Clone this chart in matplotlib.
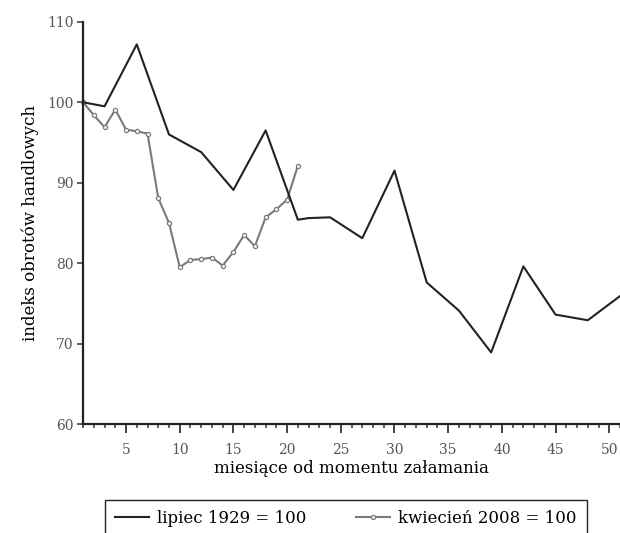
import matplotlib.pyplot as plt
from matplotlib.ticker import MultipleLocator

# lipiec 1929 = 100 (quarterly)
months_1929 = [1, 3, 6, 9, 12, 15, 18, 21, 22, 24, 27, 30, 33, 36, 39, 42, 45, 48, 51]
index_1929 = [100.0, 99.5, 107.2, 96.0, 93.8, 89.1, 96.5, 85.4, 85.6, 85.7, 83.1, 91.5,
              77.6, 74.1, 68.9, 79.6, 73.6, 72.9, 75.9]

# kwiecień 2008 = 100 (monthly)
months_2008 = list(range(1, 22))
index_2008 = [100.0, 98.4, 96.9, 99.1, 96.6, 96.4, 96.1, 88.1, 85.0, 79.5, 80.4, 80.5,
              80.7, 79.7, 81.4, 83.5, 82.1, 85.7, 86.7, 87.9, 92.1]

plt.rcParams.update({
    "font.family": "DejaVu Serif",
    "font.size": 12,
})

fig = plt.figure(figsize=(6.2, 5.33), dpi=100)
ax = fig.add_axes([0.134, 0.2045, 0.866, 0.7545])

ax.plot(months_1929, index_1929, color='#222222', lw=1.5, label='lipiec 1929 = 100',
        clip_on=False, zorder=3)
ax.plot(months_2008, index_2008, color='#7a7a7a', lw=1.5, marker='o', markersize=3,
        markerfacecolor='white', markeredgecolor='#7a7a7a', markeredgewidth=0.9,
        label='kwiecień 2008 = 100', clip_on=False, zorder=2)

ax.set_xlim(1, 51)
ax.set_ylim(60, 110)
ax.set_yticks([60, 70, 80, 90, 100, 110])
ax.xaxis.set_major_locator(MultipleLocator(5))
ax.xaxis.set_minor_locator(MultipleLocator(1))
ax.set_xticks([5, 10, 15, 20, 25, 30, 35, 40, 45, 50])

for s in ['top', 'right']:
    ax.spines[s].set_visible(False)
for s in ['left', 'bottom']:
    ax.spines[s].set_linewidth(1.6)
    ax.spines[s].set_color('#222222')

ax.tick_params(axis='x', which='major', length=6.5, width=1.3, pad=7,
               labelsize=10, labelcolor='#555555', color='#333333')
ax.tick_params(axis='x', which='minor', length=3, width=1.1, color='#333333')
ax.tick_params(axis='y', which='major', length=4, width=1.1, pad=3,
               labelsize=10, labelcolor='#555555', color='#333333')

ax.set_xlabel('miesiące od momentu załamania', fontsize=12, labelpad=2)
ax.set_ylabel('indeks obrotów handlowych', fontsize=12, labelpad=6)

fig.legend(loc='upper center', bbox_to_anchor=(0.558, 0.062), ncol=2,
           frameon=True, fancybox=False, edgecolor='#222222', fontsize=12,
           handlelength=2.0, handletextpad=0.5, columnspacing=3.0,
           borderpad=0.6, borderaxespad=0, framealpha=1)

fig.savefig('out.png', dpi=100)
